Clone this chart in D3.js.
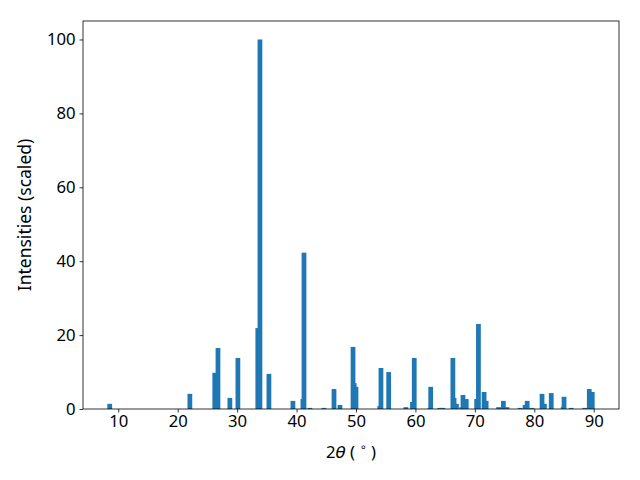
<!DOCTYPE html>
<html>
<head>
<meta charset="utf-8">
<script src="https://cdn.jsdelivr.net/npm/d3@7"></script>
<style>
  body { margin: 0; background: #fff; }
  svg { display: block; }
  .tick text { font-family: "Noto Sans", sans-serif; font-size: 16.67px; fill: #000; }
</style>
</head>
<body>
<svg id="chart"></svg>
<script>
// peak positions (2θ, degrees) and scaled intensities
let angles = [8.57, 22.05, 26.24, 26.78, 28.78, 30.13, 33.48, 33.84, 35.35, 39.39,
  41.07, 41.25, 42.25, 44.6, 46.3, 47.3, 49.5, 49.7, 50.0, 54.0,
  54.2, 55.5, 58.4, 59.5, 59.8, 62.45, 62.57, 64.1, 64.6, 66.3,
  66.5, 66.9, 67.8, 68.0, 68.55, 70.3, 70.6, 71.55, 71.9, 74.0,
  74.8, 75.4, 77.6, 78.45, 78.8, 79.6, 81.3, 81.7, 82.85, 84.85,
  85.0, 86.2, 88.5, 89.25, 89.75];
let intensities = [1.4, 4.1, 9.8, 16.5, 3.0, 13.8, 21.9, 100, 9.5, 2.2,
  2.7, 42.3, 0.3, 0.3, 5.4, 1.1, 16.8, 7.0, 6.0, 0.8,
  11.1, 10.0, 0.5, 1.9, 13.8, 0.3, 6.0, 0.3, 0.3, 13.8,
  3.0, 1.4, 0.5, 3.8, 2.7, 2.7, 23.0, 4.6, 2.2, 0.5,
  2.2, 0.5, 0.3, 1.1, 2.2, 0.3, 4.1, 1.4, 4.3, 0.5,
  3.3, 0.3, 0.3, 5.4, 4.6];
let xTicks = [10, 20, 30, 40, 50, 60, 70, 80, 90];
let yTicks = [0, 20, 40, 60, 80, 100];
let barWidth = 0.8;

let width = 640, height = 480;
let margin = {top: 21, right: 21, bottom: 71, left: 83};
let svg = d3.select("#chart").attr("width", width).attr("height", height);

let peaks = angles.map((a, i) => ({angle: a, value: intensities[i]}));

let x = d3.scaleLinear().domain([4.07, 94.25]).range([margin.left, width - margin.right]);
let y = d3.scaleLinear().domain([0, 105]).range([height - margin.bottom, margin.top]);

// bars
svg.append("g")
  .selectAll("rect")
  .data(peaks)
  .enter().append("rect")
  .attr("x", d => x(d.angle - barWidth / 2))
  .attr("width", d => x(d.angle + barWidth / 2) - x(d.angle - barWidth / 2))
  .attr("y", d => y(d.value))
  .attr("height", d => y(0) - y(d.value))
  .attr("fill", "#1f77b4");

// axes
let xAxis = svg.append("g")
  .attr("transform", `translate(0,${height - margin.bottom})`)
  .call(d3.axisBottom(x).tickValues(xTicks).tickSize(3.5).tickPadding(3));
let yAxis = svg.append("g")
  .attr("transform", `translate(${margin.left},0)`)
  .call(d3.axisLeft(y).tickValues(yTicks).tickSize(3.5).tickPadding(4));
[xAxis, yAxis].forEach(g => {
  g.select(".domain").remove();
  g.selectAll(".tick line").attr("stroke", "#000").attr("stroke-width", 0.8);
});

// frame
svg.append("rect")
  .attr("x", margin.left)
  .attr("y", margin.top)
  .attr("width", width - margin.left - margin.right)
  .attr("height", height - margin.top - margin.bottom)
  .attr("fill", "none")
  .attr("stroke", "#000")
  .attr("stroke-width", 0.8);

// axis labels
let xLabel = svg.append("text")
  .attr("x", (margin.left + width - margin.right) / 2)
  .attr("y", 458)
  .attr("text-anchor", "middle")
  .style("font-family", "Noto Sans, sans-serif")
  .style("font-size", "16.67px");
xLabel.append("tspan").text("2");
xLabel.append("tspan").style("font-family", "DejaVu Sans").style("font-style", "italic").text("θ");
xLabel.append("tspan").text(" ( ");
xLabel.append("tspan").attr("dy", -7).style("font-family", "DejaVu Sans").style("font-size", "11.5px").text("∘");
xLabel.append("tspan").attr("dy", 7).text(" )");

svg.append("text")
  .attr("transform", `translate(31,${(margin.top + height - margin.bottom) / 2}) rotate(-90)`)
  .attr("text-anchor", "middle")
  .style("font-family", "Noto Sans, sans-serif")
  .style("font-size", "17.5px")
  .text("Intensities (scaled)");
</script>
</body>
</html>
